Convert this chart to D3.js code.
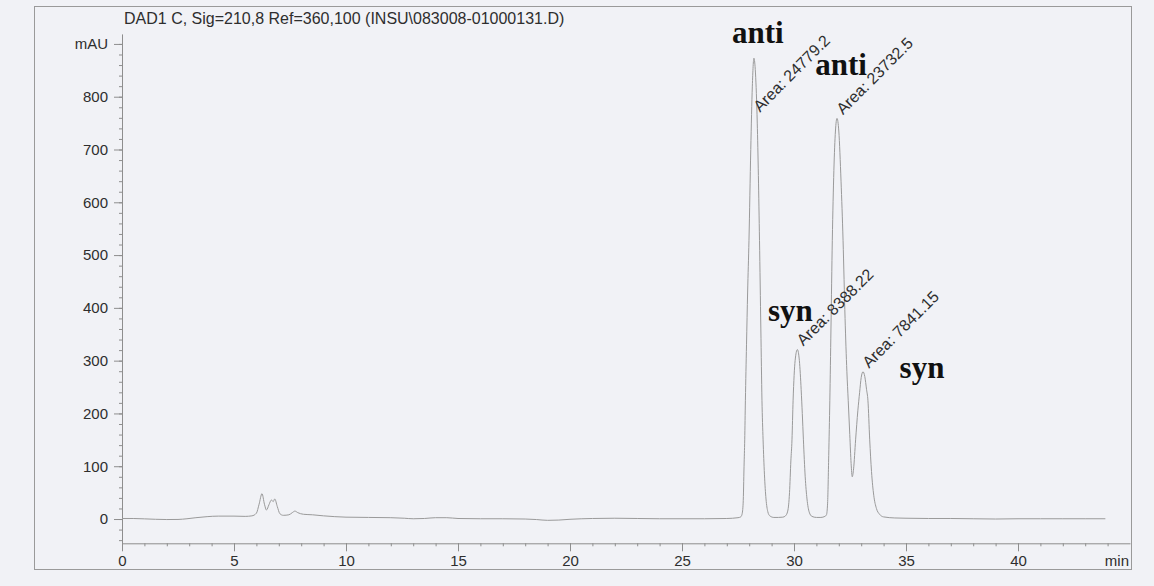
<!DOCTYPE html>
<html>
<head>
<meta charset="utf-8">
<script src="https://cdn.jsdelivr.net/npm/d3@7"></script>
<style>
  html, body { margin: 0; padding: 0; background: #f1f2f6; }
  svg { display: block; }
</style>
</head>
<body>
<svg id="chart" width="1154" height="586"></svg>
<script>
// ---- Data -------------------------------------------------------------
const signalTitle = "DAD1 C, Sig=210,8 Ref=360,100 (INSU\\083008-01000131.D)";

// Detector trace: [retention time (min), absorbance (mAU)]
const trace = [
  [0, 1], [0.5, 1], [1, 0.3], [1.5, -0.5], [2, -1], [2.5, -0.8], [2.9, 0.5],
  [3.3, 2.5], [3.8, 4.5], [4.3, 5.5], [5, 5.5], [5.5, 5], [5.8, 6], [6.0, 11],
  [6.12, 28], [6.25, 48], [6.36, 28], [6.45, 17], [6.56, 27], [6.67, 36],
  [6.75, 33], [6.82, 38], [6.93, 24], [7.05, 10], [7.2, 7], [7.45, 8],
  [7.6, 12], [7.72, 15], [7.85, 12], [8.1, 9], [8.5, 8], [9, 6], [9.5, 4.5],
  [10, 3.5], [11, 3], [12, 2.5], [12.6, 1.5], [13, 0.5], [13.5, 1], [14, 2.5],
  [14.5, 2.5], [15, 1], [16, 0.5], [17, 0.5], [18, 0], [18.5, -1], [19, -2.5],
  [19.5, -2], [20, -0.5], [21, 1], [22, 1.5], [23, 1], [24, 0.5], [25, 0.5],
  [26, 0.5], [27, 1], [27.5, 2.5],
  // anti (1)
  [27.62, 4], [27.68, 9], [27.73, 30], [27.77, 100], [27.8, 150], [27.83, 225],
  [27.88, 330], [27.93, 430], [27.99, 528], [28.07, 700], [28.14, 820],
  [28.21, 873], [28.28, 845], [28.36, 750], [28.46, 528], [28.52, 360],
  [28.57, 225], [28.62, 150], [28.68, 85], [28.75, 38], [28.83, 14],
  [28.92, 6], [29.1, 3], [29.3, 3], [29.5, 3.5], [29.62, 6],
  // syn (1)
  [29.72, 15], [29.8, 50], [29.86, 110], [29.91, 150], [29.96, 225],
  [30.05, 300], [30.15, 321], [30.24, 300], [30.32, 245], [30.37, 200],
  [30.42, 150], [30.5, 80], [30.58, 38], [30.68, 13], [30.8, 5], [31, 3],
  [31.2, 3], [31.38, 5],
  // anti (2)
  [31.45, 8], [31.5, 30], [31.55, 120], [31.6, 225], [31.65, 360],
  [31.71, 528], [31.78, 660], [31.85, 735], [31.92, 759], [32.0, 735],
  [32.1, 640], [32.19, 528], [32.28, 380], [32.36, 280], [32.42, 225],
  [32.49, 160], [32.55, 105], [32.6, 80],
  // syn (2)
  [32.66, 95], [32.75, 150], [32.85, 205], [32.93, 240], [33.0, 268],
  [33.08, 279], [33.16, 270], [33.24, 245], [33.3, 225], [33.38, 150],
  [33.46, 90], [33.56, 45], [33.68, 20], [33.82, 9], [34.0, 4], [34.5, 2],
  [35, 1.5], [36, 1], [37, 1], [38, 0.5], [39, 0], [40, 0.5], [41, 0.5],
  [42, 0.5], [43, 0.5], [43.9, 0.5]
];

const peakTimes   = [28.21, 30.15, 31.92, 33.08];
const peakHeights = [873, 321, 759, 279];
const peakAreas   = [24779.2, 8388.22, 23732.5, 7841.15];
const peakNames   = ["anti", "syn", "anti", "syn"];

const xMajorTicks = [0, 5, 10, 15, 20, 25, 30, 35, 40];
const xMinorTicks = d3.range(0, 45, 1);
const yMajorTicks = [0, 100, 200, 300, 400, 500, 600, 700, 800];
const yMinorTicks = d3.range(-40, 901, 20);
const yUnitTick = 900;

// ---- Layout ------------------------------------------------------------
const frame = { left: 34, top: 6, right: 1131, bottom: 569 };
const plot = { left: 122, right: 1130, top: 33.9, bottom: 543.3 };
const labelFont = "'Liberation Sans', Arial, sans-serif";
const inkColor = "#2e2e2e";
const lineColor = "#8e8e8e";
// pixel offsets of the isomer names from each peak apex
const nameOffsets = [[4, -15], [-7, -29], [4, -43], [59, 6]];
// area annotations never start above this level
const areaLabelCeiling = 764;

const svg = d3.select("#chart");

const x = d3.scaleLinear().domain([0, 45]).range([plot.left, plot.right]);
const y = d3.scaleLinear().domain([-46, 919]).range([plot.bottom, plot.top]);

// page frame
svg.append("rect")
  .attr("x", frame.left + 0.5).attr("y", frame.top + 0.5)
  .attr("width", frame.right - frame.left).attr("height", frame.bottom - frame.top)
  .attr("fill", "#f1f2f6").attr("stroke", "#9a9a9a").attr("stroke-width", 1);

// title
svg.append("text")
  .attr("x", 124).attr("y", 24)
  .attr("font-family", labelFont).attr("font-size", 16)
  .attr("fill", inkColor)
  .text(signalTitle);

// ---- X axis ------------------------------------------------------------
const xAxisG = svg.append("g").attr("transform", `translate(0,${plot.bottom})`);
xAxisG.append("g")
  .call(d3.axisBottom(x).tickValues(xMinorTicks).tickSize(3).tickSizeOuter(0).tickFormat(""))
  .call(g => g.select(".domain").attr("stroke", lineColor))
  .call(g => g.selectAll(".tick line").attr("stroke", lineColor));
xAxisG.append("g")
  .call(d3.axisBottom(x).tickValues(xMajorTicks).tickSize(8).tickPadding(4).tickFormat(d3.format("d")))
  .call(g => g.select(".domain").remove())
  .call(g => g.selectAll(".tick line").attr("stroke", lineColor))
  .call(g => g.selectAll("text")
    .attr("font-family", labelFont).attr("font-size", 15).attr("fill", inkColor));
xAxisG.append("text")
  .attr("x", frame.right - 2).attr("y", 23)
  .attr("text-anchor", "end")
  .attr("font-family", labelFont).attr("font-size", 15).attr("fill", inkColor)
  .text("min");

// ---- Y axis ------------------------------------------------------------
const yAxisG = svg.append("g").attr("transform", `translate(${plot.left},0)`);
yAxisG.append("g")
  .call(d3.axisLeft(y).tickValues(yMinorTicks).tickSize(3).tickSizeOuter(0).tickFormat(""))
  .call(g => g.select(".domain").attr("stroke", lineColor))
  .call(g => g.selectAll(".tick line").attr("stroke", lineColor));
yAxisG.append("g")
  .call(d3.axisLeft(y).tickValues(yMajorTicks.concat([yUnitTick])).tickSize(8).tickPadding(6)
    .tickFormat(d => d === yUnitTick ? "mAU" : d3.format("d")(d)))
  .call(g => g.select(".domain").remove())
  .call(g => g.selectAll(".tick line").attr("stroke", lineColor))
  .call(g => g.selectAll("text")
    .attr("font-family", labelFont).attr("font-size", 15).attr("fill", inkColor));

// ---- Trace -------------------------------------------------------------
const line = d3.line()
  .x(d => x(d[0]))
  .y(d => y(d[1]))
  .curve(d3.curveMonotoneX);

svg.append("path")
  .datum(trace)
  .attr("d", line)
  .attr("fill", "none")
  .attr("stroke", "#9a9a9a")
  .attr("stroke-width", 1);

// ---- Peak annotations --------------------------------------------------
peakTimes.forEach((t, i) => {
  const level = Math.min(peakHeights[i], areaLabelCeiling);
  svg.append("text")
    .attr("transform", `translate(${x(t) + 6},${y(level) - 3}) rotate(-45)`)
    .attr("font-family", labelFont).attr("font-size", 16)
    .attr("fill", inkColor)
    .text("Area: " + peakAreas[i]);

  svg.append("text")
    .attr("x", x(t) + nameOffsets[i][0])
    .attr("y", y(peakHeights[i]) + nameOffsets[i][1])
    .attr("text-anchor", "middle")
    .attr("font-family", "'Liberation Serif', 'Times New Roman', serif")
    .attr("font-weight", "bold").attr("font-size", 31)
    .attr("fill", "#111")
    .text(peakNames[i]);
});
</script>
</body>
</html>
